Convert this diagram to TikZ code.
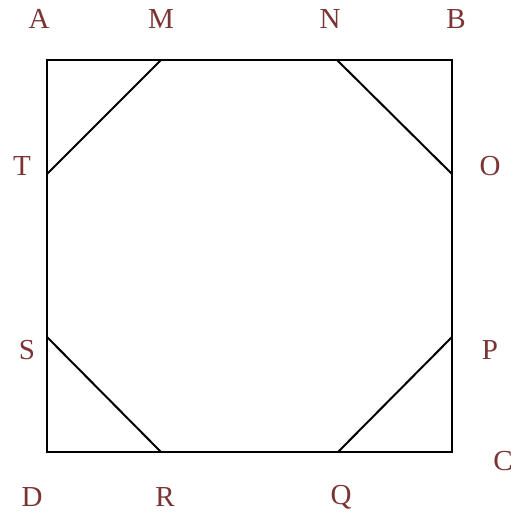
\documentclass[tikz,border=0pt]{standalone}
\usepackage{fontspec}
\setmainfont{Liberation Serif}
\definecolor{lab}{HTML}{7A3434}
\begin{document}
\begin{tikzpicture}[x=1pt,y=-1pt,
  lbl/.style={text=lab,font=\fontsize{29}{29}\selectfont,inner sep=0pt},
  edge/.style={line width=2pt,line join=miter}]
\useasboundingbox (0,0) rectangle (511,515);
\coordinate (pA) at (47,60);
\coordinate (pB) at (452,60);
\coordinate (pC) at (452,452);
\coordinate (pD) at (47,452);
\coordinate (pM) at (161,60);
\coordinate (pN) at (337,60);
\coordinate (pO) at (452,174);
\coordinate (pP) at (452,337);
\coordinate (pQ) at (338,452);
\coordinate (pR) at (161,452);
\coordinate (pS) at (47,337);
\coordinate (pT) at (47,174);
\draw[edge] (pA) -- (pB) -- (pC) -- (pD) -- cycle;
\draw[edge] (pM) -- (pT);
\draw[edge] (pN) -- (pO);
\draw[edge] (pP) -- (pQ);
\draw[edge] (pR) -- (pS);
\node[lbl] (lA) at (39,19) {A};
\node[lbl] (lM) at (161,19) {M};
\node[lbl] (lN) at (330,19) {N};
\node[lbl] (lB) at (456,19) {B};
\node[lbl] (lT) at (22,166) {T};
\node[lbl] (lO) at (490,166) {O};
\node[lbl] (lS) at (27,350) {S};
\node[lbl] (lP) at (490,350) {P};
\node[lbl] (lC) at (503,461) {C};
\node[lbl] (lD) at (32,497) {D};
\node[lbl] (lR) at (165,497) {R};
\node[lbl] (lQ) at (341,497) {Q};
\end{tikzpicture}
\end{document}
